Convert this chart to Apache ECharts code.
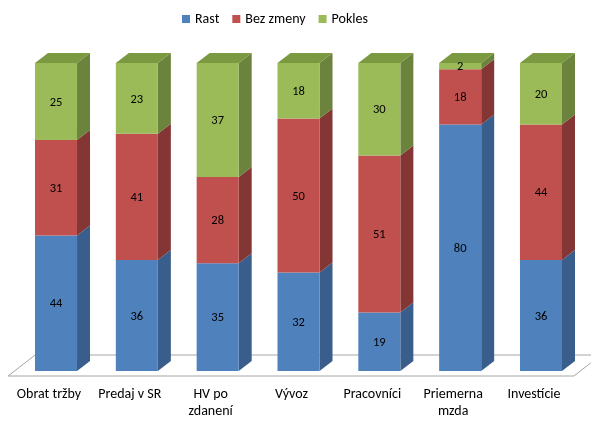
<!DOCTYPE html>
<html>
<head>
<meta charset="utf-8">
<script src="https://cdn.jsdelivr.net/npm/echarts@6/dist/echarts.min.js"></script>
<style>html,body{margin:0;padding:0;background:#fff;}#c{width:591px;height:423px;}</style>
</head>
<body>
<div id="c"></div>
<script>
var categories = ['Obrat tržby', 'Predaj v SR', 'HV po\nzdanení', 'Vývoz', 'Pracovníci', 'Priemerna\nmzda', 'Investície'];
var seriesNames = ['Rast', 'Bez zmeny', 'Pokles'];
var rast = [44, 36, 35, 32, 19, 80, 36];
var bezZmeny = [31, 41, 28, 50, 51, 18, 44];
var pokles = [25, 23, 37, 18, 30, 2, 20];

var FONT = 'Carlito, Lato, "Open Sans", sans-serif';
var frontColors = ['#4F81BD', '#C0504D', '#9BBB59'];
var sideColors = ['#395E8B', '#833634', '#6B833C'];
var topColors = ['#5A8AC6', '#CB5F5C', '#7A9940'];
var DX = 13, DY = -10;

var values = [rast, bezZmeny, pokles];
function stackData(k) {
  return categories.map(function (c, i) {
    var start = 0;
    for (var j = 0; j < k; j++) start += values[j][i];
    return [i, start, start + values[k][i], values[k][i]];
  });
}

function makeRender(k, isTop) {
  return function (params, api) {
    var i = api.value(0);
    var p0 = api.coord([i, api.value(1)]);
    var p1 = api.coord([i, api.value(2)]);
    var band = api.size([1, 0])[0];
    var w = band * 0.52;
    var xl = p0[0] - w / 2, xr = p0[0] + w / 2;
    var yb = p0[1], yt = p1[1];
    var children = [];
    children.push({
      type: 'polygon',
      shape: { points: [[xr, yb], [xr + DX, yb + DY], [xr + DX, yt + DY], [xr, yt]] },
      style: { fill: sideColors[k] }
    });
    children.push({
      type: 'rect',
      shape: { x: xl, y: yt, width: w, height: yb - yt },
      style: { fill: frontColors[k] }
    });
    if (isTop) {
      children.push({
        type: 'polygon',
        shape: { points: [[xl, yt], [xl + DX, yt + DY], [xr + DX, yt + DY], [xr, yt]] },
        style: { fill: topColors[k] }
      });
    }
    children.push({
      type: 'text',
      style: {
        text: String(api.value(3)), x: p0[0], y: (yb + yt) / 2 + 1,
        align: 'center', verticalAlign: 'middle',
        fill: '#000', fontSize: 12.5, fontFamily: FONT
      }
    });
    return { type: 'group', children: children };
  };
}

function renderFloor(params, api) {
  var cs = params.coordSys;
  var gx = cs.x, gw = cs.width, by = cs.y + cs.height;
  return {
    type: 'polygon',
    shape: { points: [[gx - 7.5, by + 5], [gx + gw - 7.5, by + 5], [gx + gw + 19.5, by - 16], [gx + 19.5, by - 16]] },
    style: { fill: 'none', stroke: '#A6A6A6', lineWidth: 1 },
    silent: true
  };
}

var series = [{
  type: 'custom', name: 'floor', renderItem: renderFloor, data: [[0, 0]], silent: true, z: 1
}];
for (var k = 0; k < 3; k++) {
  series.push({
    type: 'custom',
    name: seriesNames[k],
    renderItem: makeRender(k, k === 2),
    itemStyle: { color: frontColors[k] },
    encode: { x: 0, y: 2 },
    data: stackData(k),
    z: 2 + k
  });
}

var chart = echarts.init(document.getElementById('c'), null, { renderer: 'canvas' });
chart.setOption({
  animation: false,
  backgroundColor: '#fff',
  legend: {
    data: seriesNames,
    left: 177, top: 7,
    icon: 'rect', itemWidth: 8, itemHeight: 8, itemGap: 13,
    textStyle: { fontFamily: FONT, fontSize: 14, color: '#000' }
  },
  grid: { left: 15.6, right: 9.6, top: 63, bottom: 52, containLabel: false },
  xAxis: {
    type: 'category', data: categories,
    axisLine: { show: false }, axisTick: { show: false },
    axisLabel: {
      interval: 0, margin: 15, fontFamily: FONT, fontSize: 14, color: '#000',
      lineHeight: 17, padding: [0, 14, 0, 0], hideOverlap: false
    }
  },
  yAxis: {
    type: 'value', min: 0, max: 100, interval: 20,
    show: false, splitLine: { show: false }
  },
  series: series
});
</script>
</body>
</html>
